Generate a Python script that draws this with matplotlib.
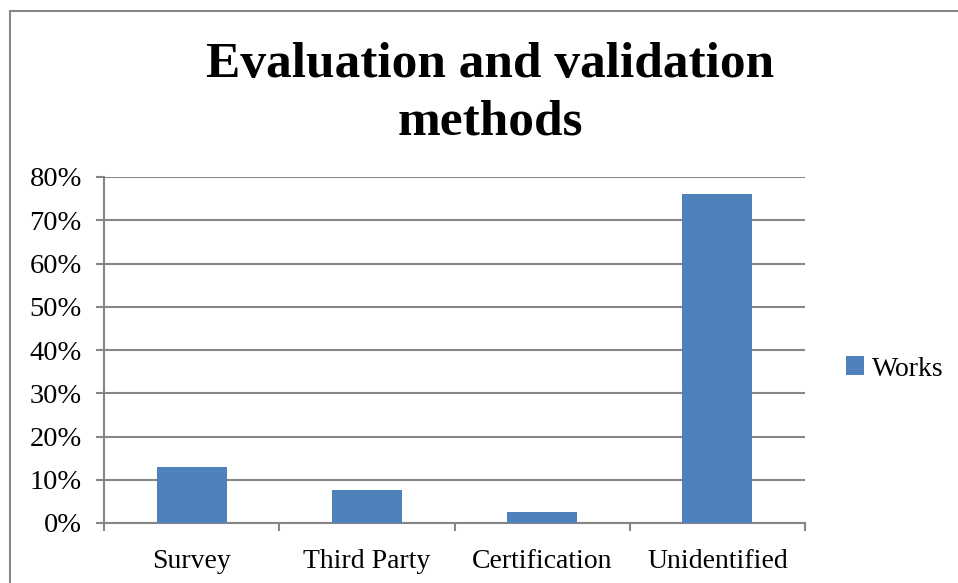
import matplotlib.pyplot as plt
from matplotlib.patches import Rectangle
from matplotlib.ticker import PercentFormatter

categories = ["Survey", "Third Party", "Certification", "Unidentified"]
works = [0.13, 0.077, 0.025, 0.76]
yticks = [0, 0.1, 0.2, 0.3, 0.4, 0.5, 0.6, 0.7, 0.8]

BAR = "#4F81BD"
GRID = "#868686"

plt.rcParams["font.family"] = ["Liberation Serif", "DejaVu Serif"]

fig = plt.figure(figsize=(9.58, 5.83), dpi=100)
# outer chart frame (right/bottom edges fall off the image)
fig.patches.append(Rectangle((10 / 958, -0.05), 1.2, 1 - 11 / 583 + 0.05,
                             transform=fig.transFigure, fill=False,
                             edgecolor=GRID, linewidth=1.5))

ax = fig.add_axes([104 / 958, 1 - 523 / 583, (805 - 104) / 958, (523 - 177) / 583])
x = range(len(categories))
ax.bar(x, works, width=0.4, color=BAR, label="Works", zorder=3)

ax.set_xlim(-0.5, len(categories) - 0.5)
ax.set_ylim(0, 0.8)
ax.set_yticks(yticks)
ax.yaxis.set_major_formatter(PercentFormatter(1.0, decimals=0))
ax.grid(axis="y", color=GRID, linewidth=1.5, zorder=0)

ax.set_xticks([i - 0.5 for i in range(len(categories) + 1)])
ax.set_xticklabels([])
ax.set_xticks(list(x), minor=True)
ax.set_xticklabels(categories, minor=True, fontsize=20)
ax.tick_params(axis="x", which="minor", length=0, pad=19)
ax.tick_params(axis="x", which="major", length=6, width=1.5, color=GRID)
ax.tick_params(axis="y", length=6, width=1.5, color=GRID, labelsize=20.5, pad=10)

for side in ["top", "right"]:
    ax.spines[side].set_visible(False)
for side in ["left", "bottom"]:
    ax.spines[side].set_color(GRID)
    ax.spines[side].set_linewidth(1.5)

fig.text(490 / 958, 1 - 94 / 583, "Evaluation and validation\nmethods",
         ha="center", va="center", fontsize=37, fontweight="bold",
         linespacing=1.32)

fig.legend(loc="center left", bbox_to_anchor=(821 / 958, 1 - 369 / 583),
           frameon=False, fontsize=20, handlelength=0.65, handleheight=0.65,
           handletextpad=0.3)

fig.savefig("out.png", dpi=100)
